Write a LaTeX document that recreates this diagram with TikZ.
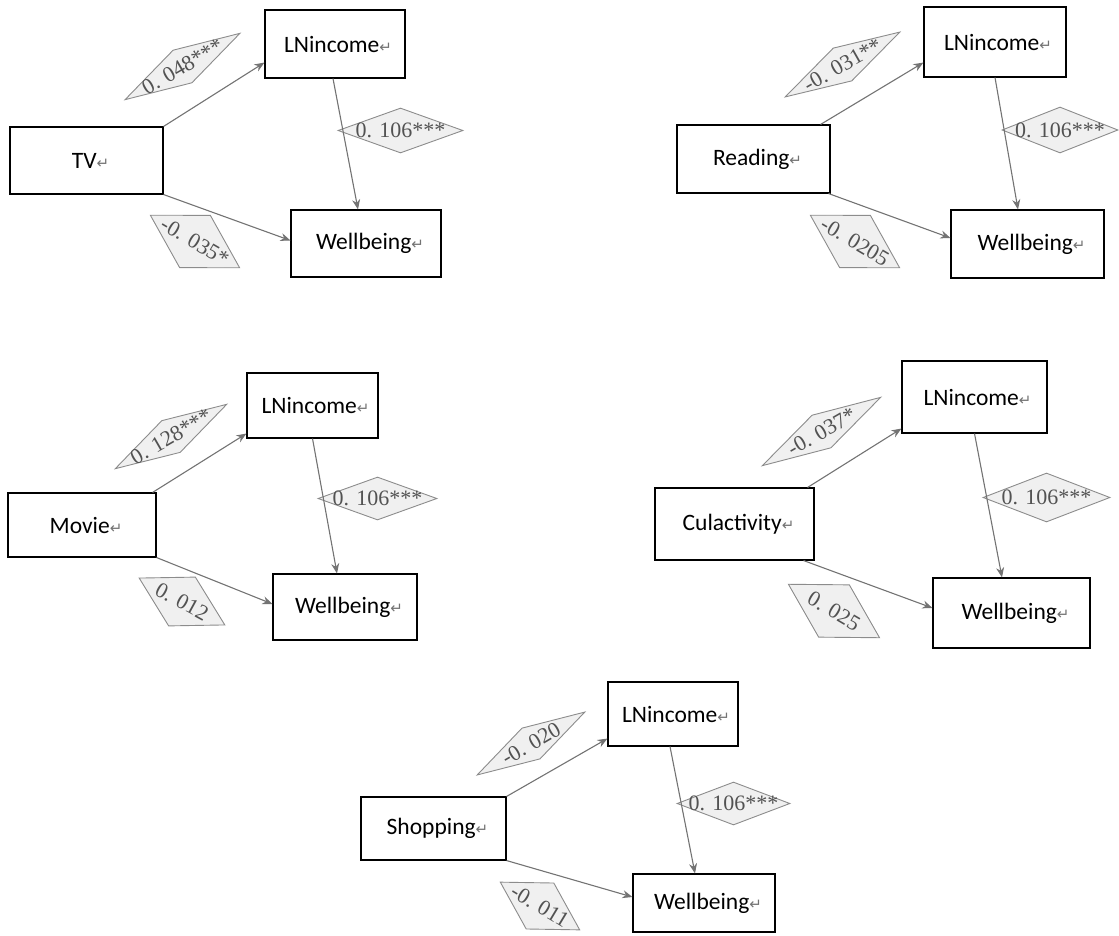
\documentclass[tikz,border=0pt]{standalone}
\usepackage{fontspec}
\setmainfont{Carlito}
\newfontfamily\numfont{Liberation Serif}
\newfontfamily\symfont{DejaVu Sans}
\usetikzlibrary{arrows.meta,shapes.geometric}

\newcommand{\retmark}{{\symfont\fontsize{15}{15}\selectfont\textcolor{black!55}{↵}}}
\newcommand{\coef}[1]{\makebox[0pt]{\raisebox{-0.33em}[0pt][0pt]{#1}}}

\tikzset{
  varbox/.style={draw, line width=1.1pt, fill=white, inner sep=0pt,
    font=\fontsize{23.5}{27}\selectfont},
  coefbox/.style={shape=diamond, draw=black!45, line width=0.9pt, fill=black!6,
    inner sep=0pt, text=black!68, font=\numfont\fontsize{22}{22}\selectfont},
  link/.style={draw=black!55, line width=1.1pt, -{Stealth[length=10pt,width=8pt]}}
}

\begin{document}
\begin{tikzpicture}[x=1pt,y=-1pt]
\useasboundingbox (0,0) rectangle (1119,936);

% TV
\node[varbox, minimum width=153pt, minimum height=67pt] (tv) at (86.5,160.5) {\hspace*{8pt}TV\retmark};
\node[varbox, minimum width=140pt, minimum height=68pt] (tvinc) at (335,44) {\hspace*{6pt}LNincome\retmark};
\node[varbox, minimum width=150pt, minimum height=67pt] (tvwell) at (366,243.5) {\hspace*{8pt}Wellbeing\retmark};
\node[coefbox, rotate=30, minimum width=133pt, minimum height=38pt] (tvc1) at (182.5,66.5) {\coef{0. 048***}};
\node[coefbox, minimum width=125pt, minimum height=45pt] (tvc2) at (400.5,130.5) {\coef{0. 106***}};
\node[coefbox, rotate=-30.5, minimum width=104pt, minimum height=61pt] (tvc3) at (195,241.5) {\coef{-0. 035*}};
\draw[link] (tv.north east) -- ([yshift=16pt]tvinc.south west);
\draw[link] ([xshift=-2pt]tvinc.south) -- ([xshift=-8pt]tvwell.north);
\draw[link] (tv.south east) -- ([yshift=3pt]tvwell.west);

% Reading
\node[varbox, minimum width=153pt, minimum height=68pt] (rd) at (753.5,159) {\hspace*{8pt}Reading\retmark};
\node[varbox, minimum width=142pt, minimum height=70pt] (rdinc) at (995,42) {\hspace*{6pt}LNincome\retmark};
\node[varbox, minimum width=153pt, minimum height=68pt] (rdwell) at (1027.5,244) {\hspace*{8pt}Wellbeing\retmark};
\node[coefbox, rotate=29.5, minimum width=132pt, minimum height=38pt] (rdc1) at (842.5,64.5) {\coef{-0. 031**}};
\node[coefbox, minimum width=116pt, minimum height=46pt] (rdc2) at (1060,130) {\coef{0. 106***}};
\node[coefbox, rotate=-30.5, minimum width=104pt, minimum height=61pt] (rdc3) at (855,241.5) {\coef{-0. 0205}};
\draw[link] ([xshift=-10pt]rd.north east) -- ([yshift=15pt]rdinc.south west);
\draw[link] (rdinc.south) -- ([xshift=-9.5pt]rdwell.north);
\draw[link] ([xshift=-2pt]rd.south east) -- ([yshift=6pt]rdwell.west);

% Movie
\node[varbox, minimum width=148pt, minimum height=64pt] (mv) at (82,525) {\hspace*{8pt}Movie\retmark};
\node[varbox, minimum width=131pt, minimum height=65pt] (mvinc) at (312.5,405.5) {\hspace*{6pt}LNincome\retmark};
\node[varbox, minimum width=144pt, minimum height=66pt] (mvwell) at (345,607) {\hspace*{8pt}Wellbeing\retmark};
\node[coefbox, rotate=30, minimum width=129pt, minimum height=37pt] (mvc1) at (171,436.5) {\coef{0. 128***}};
\node[coefbox, minimum width=119pt, minimum height=43pt] (mvc2) at (377.5,498.5) {\coef{0. 106***}};
\node[coefbox, rotate=-28.7, minimum width=98pt, minimum height=56pt] (mvc3) at (182,601.5) {\coef{0. 012}};
\draw[link] ([xshift=-4pt]mv.north east) -- ([yshift=5pt]mvinc.south west);
\draw[link] (mvinc.south) -- ([xshift=-8pt]mvwell.north);
\draw[link] (mv.south east) -- ([yshift=3pt]mvwell.west);

% Culactivity
\node[varbox, minimum width=159pt, minimum height=72pt] (cu) at (734.5,524) {\hspace*{8pt}Culactivity\retmark};
\node[varbox, minimum width=145pt, minimum height=72pt] (cuinc) at (974.5,397) {\hspace*{6pt}LNincome\retmark};
\node[varbox, minimum width=157pt, minimum height=70pt] (cuwell) at (1011.5,613) {\hspace*{8pt}Wellbeing\retmark};
\node[coefbox, rotate=30, minimum width=137pt, minimum height=38pt] (cuc1) at (821.5,431.5) {\coef{-0. 037*}};
\node[coefbox, minimum width=127pt, minimum height=49pt] (cuc2) at (1046.5,497.5) {\coef{0. 106***}};
\node[coefbox, rotate=-30.4, minimum width=106pt, minimum height=61pt] (cuc3) at (834,611) {\coef{0. 025}};
\draw[link] ([xshift=-7pt]cu.north east) -- ([yshift=5pt]cuinc.south west);
\draw[link] (cuinc.south) -- ([xshift=-9.5pt]cuwell.north);
\draw[link] ([xshift=-11pt]cu.south east) -- ([yshift=5pt]cuwell.west);

% Shopping
\node[varbox, minimum width=145pt, minimum height=63pt] (sh) at (433.5,828.5) {\hspace*{8pt}Shopping\retmark};
\node[varbox, minimum width=130pt, minimum height=64pt] (shinc) at (673,714) {\hspace*{6pt}LNincome\retmark};
\node[varbox, minimum width=142pt, minimum height=58pt] (shwell) at (704,903) {\hspace*{8pt}Wellbeing\retmark};
\node[coefbox, rotate=30.3, minimum width=125pt, minimum height=36pt] (shc1) at (531,743.5) {\coef{-0. 020}};
\node[coefbox, minimum width=113pt, minimum height=43pt] (shc2) at (733.5,803.5) {\coef{0. 106***}};
\node[coefbox, rotate=-31, minimum width=93pt, minimum height=54pt] (shc3) at (540,906) {\coef{-0. 011}};
\draw[link] (sh.north east) -- ([yshift=8pt]shinc.south west);
\draw[link] ([xshift=-3pt]shinc.south) -- ([xshift=-9pt]shwell.north);
\draw[link] (sh.south east) -- ([yshift=6pt]shwell.west);
\end{tikzpicture}
\end{document}
